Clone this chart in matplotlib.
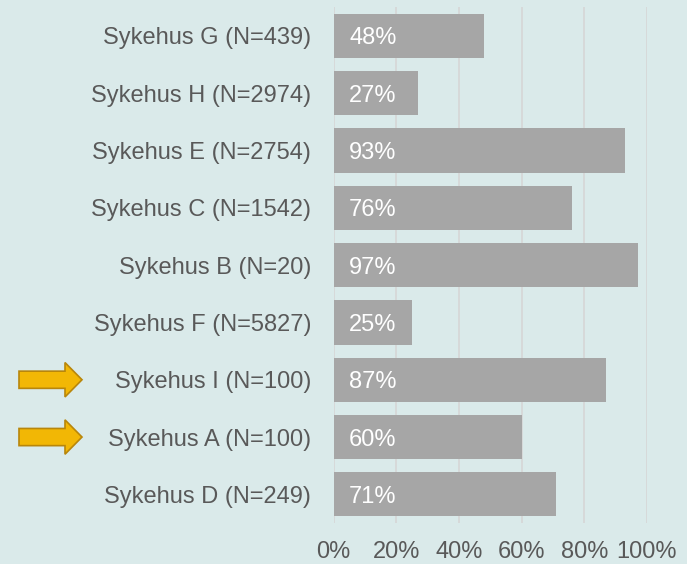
import matplotlib
matplotlib.use("Agg")
import matplotlib.pyplot as plt
import matplotlib.patches as mpatches
import matplotlib.transforms as mtransforms

categories = ["Sykehus G (N=439)", "Sykehus H (N=2974)", "Sykehus E (N=2754)",
              "Sykehus C (N=1542)", "Sykehus B (N=20)", "Sykehus F (N=5827)",
              "Sykehus I (N=100)", "Sykehus A (N=100)", "Sykehus D (N=249)"]
values = [48, 27, 93, 76, 97, 25, 87, 60, 71]
xticks = [0, 20, 40, 60, 80, 100]
xtick_labels = ["0%", "20%", "40%", "60%", "80%", "100%"]
highlighted = ["Sykehus I (N=100)", "Sykehus A (N=100)"]

plt.rcParams['font.family'] = ['Liberation Sans', 'DejaVu Sans']
bg = "#daeaea"
W, H = 687, 564
fig = plt.figure(figsize=(W / 100, H / 100), dpi=100, facecolor=bg)
ax = fig.add_axes([333.5 / W, 1 - 523 / H, 313.5 / W, (523 - 7.3) / H])
ax.set_facecolor(bg)

ypos = list(range(len(categories)))
ax.barh(ypos, values, height=0.77, color="#a6a6a6", zorder=2)
for y, v in zip(ypos, values):
    ax.text(5, y, f"{v}%", color="white", fontsize=17, va="center_baseline",
            ha="left", zorder=3)

ax.set_ylim(len(categories) - 0.5, -0.5)
ax.set_xlim(0, 100)
ax.set_yticks(ypos)
ax.set_yticklabels(categories, fontsize=17, color="#595959")
ax.set_xticks(xticks)
ax.set_xticklabels(xtick_labels, fontsize=17, color="#595959")
ax.tick_params(axis="y", length=0, pad=16)
ax.tick_params(axis="x", length=0, pad=13)
ax.grid(axis="x", color="#d6d6d6", linewidth=1.2, zorder=1)
ax.set_axisbelow(True)
for s in ax.spines.values():
    s.set_visible(False)

trans = mtransforms.blended_transform_factory(fig.transFigure, ax.transData)
for name in highlighted:
    y = categories.index(name)
    arr = mpatches.FancyArrow(19 / W, y, 63 / W, 0, width=0.30, head_width=0.60,
                              head_length=17 / W, length_includes_head=True,
                              facecolor="#f2b705", edgecolor="#b8860b", linewidth=1.2,
                              transform=trans, clip_on=False, zorder=5)
    fig.add_artist(arr)

fig.savefig("out.png", dpi=100, facecolor=bg)
